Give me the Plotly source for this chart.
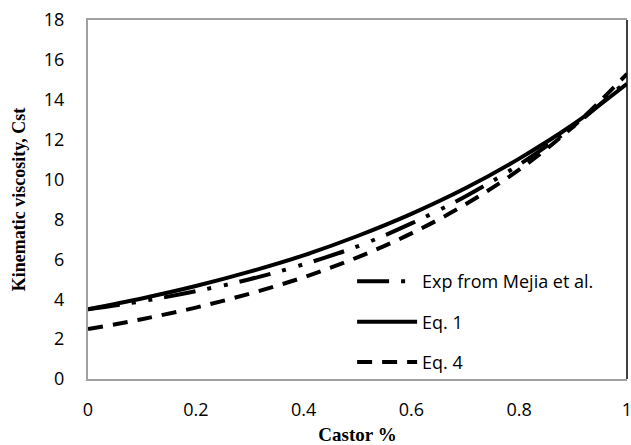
import plotly.graph_objects as go

castor = [0.0, 0.1, 0.2, 0.3, 0.4, 0.5, 0.6, 0.7, 0.8, 0.9, 1.0]
exp_mejia = [3.5, 3.9, 4.4, 5.0, 5.75, 6.65, 7.8, 9.15, 10.75, 12.65, 14.95]
eq1 = [3.5, 4.04, 4.66, 5.38, 6.2, 7.17, 8.28, 9.56, 11.05, 12.76, 14.8]
eq4 = [2.5, 3.0, 3.58, 4.28, 5.1, 6.1, 7.3, 8.75, 10.5, 12.65, 15.3]

y_ticks = [0, 2, 4, 6, 8, 10, 12, 14, 16, 18]
x_ticks = [0, 0.2, 0.4, 0.6, 0.8, 1]
x_tick_text = ["0", "0.2", "0.4", "0.6", "0.8", "1"]

fig = go.Figure()
fig.add_trace(go.Scatter(x=castor, y=exp_mejia, mode="lines", name="Exp from Mejia et al.", legendgroup="a",
                         line=dict(color="black", width=4, dash="32px,12px,4px,13px,4px,12px", shape="spline")))
fig.add_trace(go.Scatter(x=castor, y=eq1, mode="lines", name="Eq. 1", legendgroup="b",
                         line=dict(color="black", width=4, shape="spline")))
fig.add_trace(go.Scatter(x=castor, y=eq4, mode="lines", name="Eq. 4", legendgroup="c",
                         line=dict(color="black", width=4, dash="15px,10px", shape="spline")))

fig.update_layout(
    width=631, height=445,
    margin=dict(l=88, r=4, t=20, b=66),
    paper_bgcolor="white", plot_bgcolor="white",
    font=dict(family="Open Sans", size=18, color="black"),
    showlegend=True,
    legend=dict(x=0.49, y=0.323, xanchor="left", yanchor="top", traceorder="grouped",
                bgcolor="rgba(0,0,0,0)", font=dict(family="Open Sans", size=18),
                tracegroupgap=14, itemwidth=60),
    xaxis=dict(range=[0, 1], tickvals=x_ticks, ticktext=x_tick_text, showgrid=False, zeroline=False,
               showline=True, linecolor="#a0a0a0", linewidth=2, mirror=True, ticks="",
               ticklabelstandoff=13, ticklabeloverflow="allow", automargin=False,
               title=dict(text="Castor %", font=dict(family="Liberation Serif", size=19, weight="bold"), standoff=10)),
    yaxis=dict(range=[0, 18], tickvals=y_ticks, showgrid=False, zeroline=False,
               showline=True, linecolor="#a0a0a0", linewidth=2, ticks="",
               ticklabelstandoff=18, automargin=False,
               title=dict(text="Kinematic viscosity, Cst", font=dict(family="Liberation Serif", size=18, weight="bold"), standoff=14)),
    shapes=[dict(type="line", xref="paper", yref="paper", x0=1, x1=1, y0=0, y1=1,
                 line=dict(color="black", width=1.5))],
)

fig.write_html("out.html")
